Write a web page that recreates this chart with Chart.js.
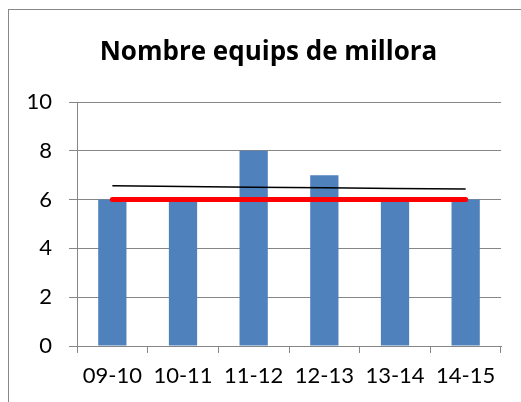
<!DOCTYPE html>
<html>
<head>
<meta charset="utf-8">
<script src="https://cdn.jsdelivr.net/npm/chart.js@4"></script>
<style>
  html, body { margin: 0; padding: 0; background: #fff; overflow: hidden; }
  #wrap { position: relative; width: 521px; height: 402px; }
  #frame { position: absolute; left: 8px; top: 9px; width: 600px; height: 500px; border: 1px solid #888; box-sizing: border-box; }
  canvas { position: absolute; left: 0; top: 0; }
</style>
</head>
<body>
<div id="wrap">
  <div id="frame"></div>
  <canvas id="chart" width="521" height="402"></canvas>
</div>
<script>
const barBlue = '#4F81BD';
const gridGrey = '#868686';

const chartTitle = 'Nombre equips de millora';
const categories = ['09-10', '10-11', '11-12', '12-13', '13-14', '14-15'];
const teams = [6, 6, 8, 7, 6, 6];
const target = [6, 6, 6, 6, 6, 6];
const trend = [6.57, 6.54, 6.51, 6.49, 6.46, 6.43];
const yTicks = [0, 2, 4, 6, 8, 10];

const font = 'Lato, "Open Sans", sans-serif';

// title is centred on the outer frame, not on the plot, so draw it ourselves
const frameTitle = {
    id: 'frameTitle',
    afterDraw(chart) {
        const ctx = chart.ctx;
        ctx.save();
        ctx.font = 'bold 26px "Open Sans", sans-serif';
        ctx.fillStyle = '#000';
        ctx.textAlign = 'center';
        ctx.textBaseline = 'alphabetic';
        ctx.fillText(chartTitle, 268.5, 60);
        ctx.restore();
    }
};

new Chart(document.getElementById('chart').getContext('2d'), {
    data: {
        labels: categories,
        datasets: [
            { type: 'line', data: target, borderColor: '#FF0000', borderWidth: 5, borderCapStyle: 'round', pointRadius: 0, order: 0 },
            { type: 'line', data: trend, borderColor: '#000000', borderWidth: 1.5, pointRadius: 0, order: 0 },
            { type: 'bar', data: teams, backgroundColor: barBlue, barPercentage: 0.4, categoryPercentage: 1, order: 1 }
        ]
    },
    plugins: [frameTitle],
    options: {
        responsive: false,
        animation: false,
        layout: { padding: { left: 0, right: 20, top: 102, bottom: 0 } },
        plugins: {
            legend: { display: false },
            tooltip: { enabled: false },
            title: { display: false }
        },
        scales: {
            x: {
                offset: true,
                grid: { display: true, offset: true, drawOnChartArea: false, color: gridGrey, tickLength: 7 },
                border: { color: gridGrey, width: 1 },
                ticks: { color: '#000', font: { family: font, size: 22 }, padding: 10, maxRotation: 0 },
                afterFit: (s) => { s.height = 56; }
            },
            y: {
                min: 0,
                max: 10,
                afterBuildTicks: (s) => { s.ticks = yTicks.map(v => ({ value: v })); },
                grid: { color: gridGrey, tickLength: 8 },
                border: { color: gridGrey, width: 1 },
                ticks: { color: '#000', font: { family: font, size: 22 }, padding: 17 },
                afterFit: (s) => { s.width = 77; }
            }
        }
    }
});
</script>
</body>
</html>
